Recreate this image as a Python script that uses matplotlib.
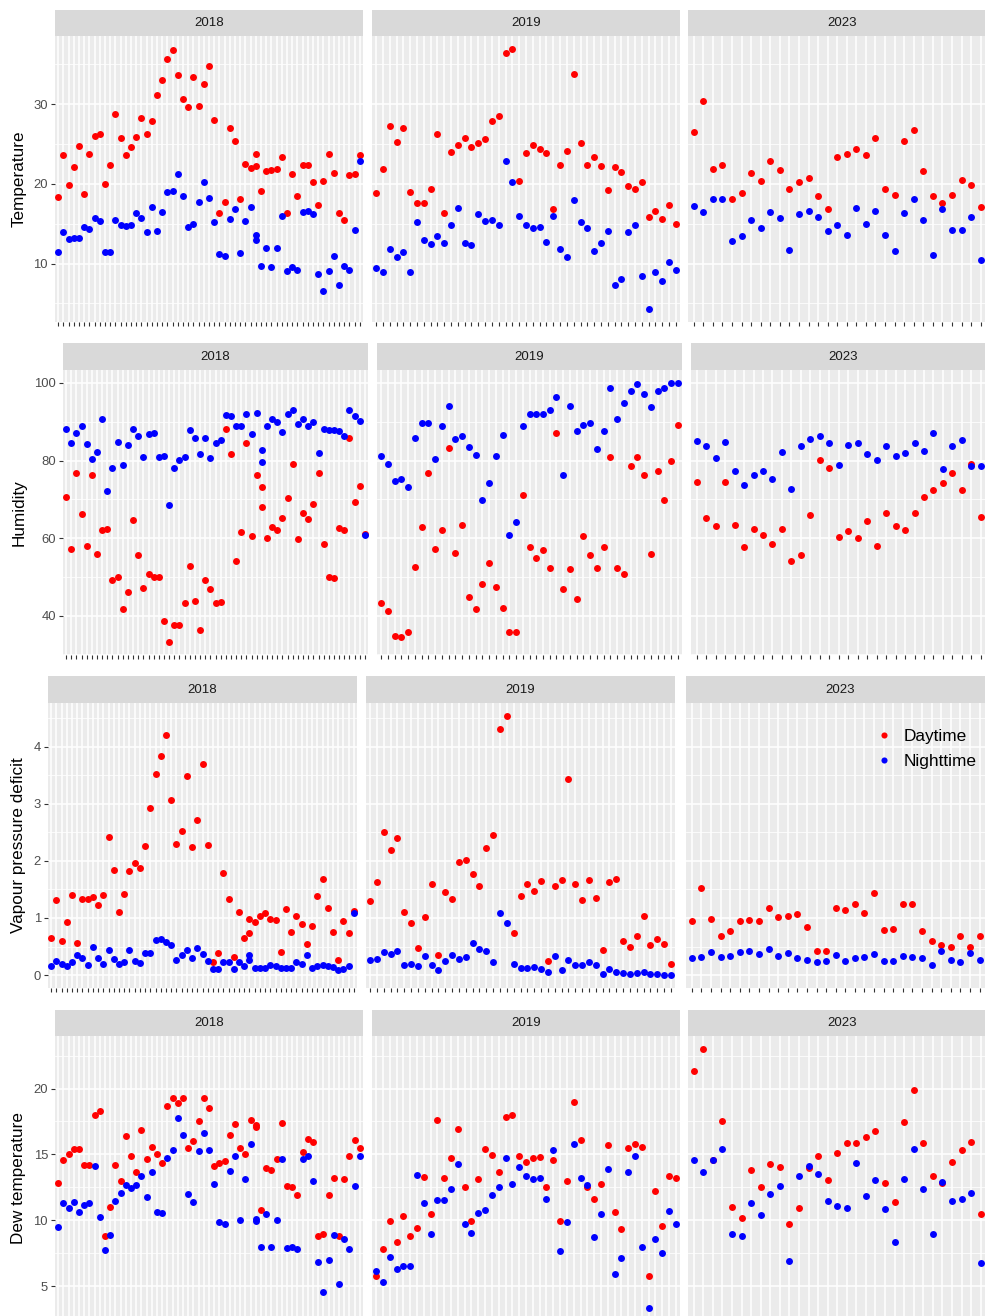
import numpy as np
import matplotlib
matplotlib.use('Agg')
import matplotlib.pyplot as plt
from matplotlib.lines import Line2D

plt.rcParams['font.family'] = ['Liberation Sans', 'DejaVu Sans']

years = ['2018', '2019', '2023']
n_dates = [59, 45, 32]  # dates per facet (the last 2023 date is outside the crop)

# x position of each observation inside its facet; 2018 has one date recorded twice
x_2018 = list(range(39)) + [38] + list(range(39, 59))
x_2019 = list(range(45))
x_2023 = list(range(31))

# ---- Temperature
temp_day_2018 = [18.3, 23.6, 19.8, 22.1, 24.7, 18.7, 23.7, 26.0, 26.2, 20.0,
                 22.3, 28.7, 25.7, 23.6, 24.6, 25.9, 28.2, 26.3, 27.9, 31.1,
                 33.0, 35.7, 36.8, 33.6, 30.6, 29.6, 33.4, 29.7, 32.5, 34.8,
                 28.0, 16.3, 17.7, 27.0, 25.4, 18.1, 22.5, 22.0, 23.7, 22.2,
                 19.1, 21.6, 21.7, 21.8, 23.4, 16.3, 21.2, 18.5, 22.4, 22.4,
                 20.2, 17.3, 20.4, 23.7, 21.3, 16.3, 15.5, 21.1, 21.25, 23.6]
temp_night_2018 = [11.5, 14.0, 13.1, 13.2, 13.2, 14.6, 14.35, 15.7, 15.35, 11.4,
                   11.4, 15.4, 14.8, 14.7, 14.8, 16.3, 15.65, 14.0, 17.1, 14.1,
                   16.5, 18.95, 19.15, 21.25, 18.5, 14.6, 14.9, 17.7, 20.25, 18.2,
                   15.2, 11.2, 11.0, 15.6, 16.8, 11.3, 15.3, 17.1, 13.55, 12.9,
                   9.75, 12.0, 9.6, 12.0, 15.95, 9.1, 9.6, 9.25, 16.5, 16.6,
                   16.2, 8.75, 6.6, 9.05, 10.9, 7.3, 9.65, 9.2, 14.2, 22.9]
temp_day_2019 = [18.8, 21.8, 27.2, 25.3, 27.0, 19.0, 17.6, 17.6, 19.4, 26.3,
                 16.3, 24.0, 24.85, 25.8, 24.6, 25.15, 25.65, 27.85, 28.5, 36.4,
                 36.9, 20.4, 23.8, 24.9, 24.4, 23.8, 16.8, 22.3, 24.1, 33.8,
                 25.15, 22.3, 23.35, 22.2, 19.2, 22.1, 21.5, 19.7, 19.4, 20.25,
                 15.8, 16.65, 15.6, 17.4, 15.0]
temp_night_2019 = [9.4, 8.9, 11.8, 10.8, 11.5, 8.9, 15.2, 13.0, 12.5, 13.45,
                   12.55, 14.85, 17.0, 12.6, 12.3, 16.15, 15.35, 15.4, 14.8, 22.8,
                   20.25, 15.95, 14.8, 14.5, 14.6, 12.7, 15.9, 11.8, 10.8, 18.0,
                   15.15, 14.4, 11.6, 12.6, 14.1, 7.35, 8.0, 14.0, 14.8, 8.4,
                   4.3, 8.9, 7.75, 10.25, 9.25]
temp_day_2023 = [26.45, 30.4, 21.9, 22.3, 18.1, 18.8, 21.4, 20.4, 22.9, 21.75,
                 19.4, 20.2, 20.7, 18.45, 16.9, 23.4, 23.75, 24.3, 23.65, 25.8,
                 19.4, 18.65, 25.35, 26.8, 21.55, 18.5, 17.6, 18.65, 20.5, 19.8, 17.1]
temp_night_2023 = [17.2, 16.5, 18.1, 18.1, 12.8, 13.5, 15.5, 14.4, 16.4, 15.7,
                   11.75, 16.15, 16.55, 15.85, 14.05, 14.8, 13.55, 17.0, 15.0, 16.55,
                   13.6, 11.55, 16.3, 18.1, 15.45, 11.05, 16.9, 14.15, 14.15, 15.8, 10.4]

# ---- Humidity
hum_day_2018 = [70.5, 57.3, 76.7, 66.1, 57.9, 76.2, 55.8, 62.0, 62.4, 49.1,
                49.9, 41.6, 46.0, 64.6, 55.6, 47.2, 50.8, 49.9, 49.9, 38.7,
                33.2, 37.5, 37.7, 43.2, 52.7, 43.9, 36.4, 49.3, 47.0, 43.3,
                43.5, 88.2, 81.8, 54.2, 61.7, 84.5, 60.5, 76.3, 73.3, 68.0,
                60.0, 62.9, 62.1, 65.1, 70.3, 79.2, 59.8, 66.4, 65.0, 68.7,
                76.8, 58.4, 50.0, 49.7, 62.6, 62.1, 85.8, 69.4, 73.5, 61.0]
hum_night_2018 = [88.2, 84.6, 87.0, 88.9, 84.2, 80.4, 82.2, 90.6, 72.2, 78.2,
                  84.8, 78.8, 83.9, 88.1, 86.3, 81.0, 86.9, 87.0, 80.9, 81.1,
                  68.5, 78.2, 80.2, 80.9, 87.9, 85.7, 81.6, 85.9, 80.6, 84.4,
                  85.3, 91.7, 91.5, 88.8, 88.8, 92.0, 86.8, 92.2, 82.7, 79.7,
                  88.8, 90.6, 89.9, 87.4, 91.9, 92.9, 89.4, 90.6, 88.9, 90.0,
                  82.0, 88.2, 87.8, 87.8, 87.5, 86.4, 93.0, 91.4, 90.1, 60.7]
hum_day_2019 = [43.3, 41.2, 34.85, 34.6, 35.8, 52.5, 62.8, 76.7, 57.1, 62.1,
                83.3, 56.2, 63.4, 44.8, 41.8, 48.2, 53.5, 47.5, 41.9, 35.9,
                35.7, 71.2, 57.6, 54.8, 56.9, 52.4, 87.2, 46.8, 52.1, 44.4,
                60.6, 55.6, 52.2, 57.7, 80.9, 52.4, 50.7, 78.5, 80.9, 76.2,
                55.8, 77.25, 69.9, 79.9, 89.2]
hum_night_2019 = [81.2, 79.05, 74.85, 75.2, 73.3, 85.75, 89.7, 89.7, 80.4, 88.9,
                  94.1, 85.6, 86.2, 83.6, 81.5, 69.9, 74.3, 81.1, 86.5, 60.8,
                  64.1, 88.8, 92.0, 92.0, 91.9, 93.0, 96.5, 76.2, 94.1, 87.6,
                  89.2, 89.6, 82.9, 87.7, 98.7, 90.6, 94.8, 97.9, 99.7, 97.2,
                  93.7, 98.0, 98.7, 100.0, 100.0]
hum_day_2023 = [74.5, 65.3, 63.1, 74.4, 63.35, 57.7, 62.4, 60.8, 58.4, 62.4,
                54.1, 55.7, 65.9, 80.1, 78.2, 60.2, 61.9, 60.1, 64.5, 57.9,
                66.35, 63.2, 62.1, 66.4, 70.6, 72.4, 74.1, 76.7, 72.4, 79.1, 65.5]
hum_night_2023 = [85.15, 83.7, 80.6, 84.7, 77.4, 73.6, 76.2, 77.4, 75.3, 82.1,
                  72.7, 83.7, 85.5, 86.35, 84.4, 78.8, 83.9, 84.6, 81.7, 80.1,
                  83.7, 81.1, 82.0, 84.6, 82.5, 87.0, 77.8, 83.7, 85.3, 78.6, 78.5]

# ---- Vapour pressure deficit
vpd_day_2018 = [0.65, 1.31, 0.60, 0.93, 1.40, 0.57, 1.33, 1.33, 1.36, 1.22,
                1.40, 2.42, 1.84, 1.10, 1.42, 1.83, 1.96, 1.87, 2.26, 2.93,
                3.53, 3.83, 4.21, 3.07, 2.30, 2.52, 3.49, 2.24, 2.72, 3.70,
                2.28, 0.22, 0.38, 1.79, 1.33, 0.32, 1.11, 0.65, 0.99, 0.73,
                0.93, 1.03, 1.09, 0.99, 0.96, 0.40, 1.15, 0.76, 1.04, 0.90,
                0.55, 0.86, 1.39, 1.69, 1.17, 0.75, 0.26, 0.94, 0.73, 1.13]
vpd_night_2018 = [0.16, 0.25, 0.20, 0.16, 0.23, 0.35, 0.29, 0.17, 0.49, 0.30,
                  0.20, 0.44, 0.28, 0.19, 0.23, 0.44, 0.25, 0.21, 0.39, 0.39,
                  0.61, 0.64, 0.58, 0.52, 0.26, 0.35, 0.44, 0.30, 0.48, 0.37,
                  0.25, 0.11, 0.11, 0.22, 0.22, 0.11, 0.23, 0.15, 0.35, 0.27,
                  0.13, 0.13, 0.12, 0.18, 0.15, 0.13, 0.13, 0.12, 0.22, 0.19,
                  0.35, 0.13, 0.15, 0.175, 0.16, 0.14, 0.08, 0.10, 0.16, 1.09]
vpd_day_2019 = [1.29, 1.63, 2.50, 2.19, 2.40, 1.10, 0.91, 0.47, 1.02, 1.60,
                0.36, 1.45, 1.33, 1.98, 2.01, 1.77, 1.56, 2.23, 2.46, 4.31,
                4.54, 0.73, 1.39, 1.60, 1.47, 1.65, 0.25, 1.56, 1.67, 3.43,
                1.60, 1.31, 1.67, 1.35, 0.44, 1.63, 1.69, 0.60, 0.50, 0.68,
                1.04, 0.53, 0.63, 0.54, 0.20]
vpd_night_2019 = [0.27, 0.28, 0.40, 0.37, 0.43, 0.18, 0.20, 0.15, 0.33, 0.18,
                  0.09, 0.24, 0.36, 0.28, 0.31, 0.56, 0.46, 0.42, 0.23, 1.09,
                  0.91, 0.20, 0.13, 0.13, 0.14, 0.11, 0.06, 0.33, 0.08, 0.26,
                  0.18, 0.17, 0.23, 0.18, 0.02, 0.10, 0.06, 0.04, 0.01, 0.035,
                  0.06, 0.02, 0.02, 0.0, 0.0]
vpd_day_2023 = [0.95, 1.53, 0.98, 0.69, 0.77, 0.94, 0.97, 0.95, 1.17, 1.01,
                1.04, 1.07, 0.85, 0.42, 0.42, 1.18, 1.14, 1.24, 1.08, 1.43,
                0.79, 0.80, 1.25, 1.25, 0.77, 0.60, 0.53, 0.49, 0.68, 0.49, 0.68]
vpd_night_2023 = [0.30, 0.32, 0.40, 0.32, 0.33, 0.41, 0.415, 0.37, 0.46, 0.33,
                  0.39, 0.29, 0.26, 0.23, 0.24, 0.36, 0.25, 0.29, 0.31, 0.37,
                  0.25, 0.25, 0.33, 0.32, 0.30, 0.17, 0.42, 0.26, 0.23, 0.38, 0.27]

# ---- Dew temperature
dew_day_2018 = [12.8, 14.55, 15.05, 15.4, 15.45, 14.2, 14.2, 18.0, 18.3, 8.8,
                11.05, 14.2, 13.0, 16.4, 14.85, 13.65, 16.85, 14.65, 15.55, 15.05,
                14.35, 18.7, 19.3, 18.9, 19.25, 15.5, 16.05, 17.55, 19.3, 18.55,
                14.1, 14.35, 14.5, 16.5, 17.3, 15.5, 15.0, 17.6, 17.25, 17.05,
                10.8, 13.95, 13.8, 14.65, 17.4, 12.6, 12.5, 11.9, 15.15, 16.2,
                15.95, 8.85, 8.95, 11.9, 13.2, 8.8, 13.1, 14.85, 16.1, 15.5]
dew_night_2018 = [9.5, 11.3, 10.95, 11.4, 10.65, 11.15, 11.35, 14.1, 10.25, 7.75,
                  8.9, 11.5, 12.05, 12.7, 12.45, 12.7, 13.4, 11.8, 13.65, 10.65,
                  10.55, 14.7, 15.35, 17.8, 16.5, 12.0, 11.4, 15.25, 16.65, 15.35,
                  12.75, 9.85, 9.7, 13.75, 14.9, 10.05, 13.1, 15.8, 9.95, 10.1,
                  8.0, 10.45, 8.0, 10.0, 14.65, 7.9, 7.95, 7.8, 14.65, 14.85,
                  13.0, 6.85, 4.6, 7.0, 8.9, 5.2, 8.55, 7.85, 12.6, 14.9]
dew_day_2019 = [5.8, 7.8, 9.95, 8.35, 10.35, 8.8, 9.45, 13.3, 10.45, 17.6,
                13.25, 14.7, 16.9, 12.5, 9.95, 13.1, 15.4, 14.95, 13.65, 17.85,
                18.0, 14.85, 14.4, 14.7, 14.8, 12.55, 14.55, 9.95, 12.95, 18.95,
                16.1, 12.55, 11.65, 12.75, 15.7, 10.65, 9.35, 15.5, 15.8, 15.6,
                5.8, 12.2, 9.55, 13.4, 13.2]
dew_night_2019 = [6.15, 5.3, 7.2, 6.3, 6.55, 6.55, 13.45, 11.3, 8.95, 11.55,
                  11.55, 12.4, 14.3, 9.7, 9.05, 10.55, 10.8, 11.9, 12.5, 14.75,
                  12.75, 14.05, 13.35, 13.1, 13.25, 11.6, 15.3, 7.7, 9.9, 15.8,
                  13.25, 12.7, 8.75, 10.5, 13.9, 5.9, 7.15, 13.7, 14.85, 8.0,
                  3.35, 8.6, 7.55, 10.7, 9.7]
dew_day_2023 = [21.35, 23.0, 14.55, 17.5, 11.05, 10.2, 13.8, 12.5, 14.25, 14.05,
                9.7, 10.95, 13.95, 14.9, 13.05, 15.1, 15.9, 15.9, 16.35, 16.8,
                12.8, 11.4, 17.45, 19.85, 15.85, 13.35, 12.8, 14.4, 15.3, 15.95, 10.45]
dew_night_2023 = [14.6, 13.65, 14.6, 15.45, 8.95, 8.85, 11.35, 10.4, 12.0, 12.6,
                  6.95, 13.35, 14.1, 13.55, 11.5, 11.1, 10.9, 14.35, 11.85, 13.05,
                  10.85, 8.35, 13.1, 15.45, 12.4, 8.95, 12.9, 11.45, 11.65, 12.1, 6.75]

xs = [x_2018, x_2019, x_2023]

# ---- layout (pixel boxes of the reference picture)
W, H = 985, 1316
rows = [
    dict(label='Temperature', day=[temp_day_2018, temp_day_2019, temp_day_2023],
         night=[temp_night_2018, temp_night_2019, temp_night_2023],
         major=[10, 20, 30], minor=[5, 15, 25, 35],
         strip_top=10, top=36, bottom=322,
         panels=[(55, 363), (372, 680), (688, 996)]),
    dict(label='Humidity', day=[hum_day_2018, hum_day_2019, hum_day_2023],
         night=[hum_night_2018, hum_night_2019, hum_night_2023],
         major=[40, 60, 80, 100], minor=[30, 50, 70, 90],
         strip_top=343, top=370, bottom=655,
         panels=[(63, 368), (377, 682), (691, 996)]),
    dict(label='Vapour pressure deficit', day=[vpd_day_2018, vpd_day_2019, vpd_day_2023],
         night=[vpd_night_2018, vpd_night_2019, vpd_night_2023],
         major=[0, 1, 2, 3, 4], minor=[0.5, 1.5, 2.5, 3.5, 4.5],
         strip_top=676, top=703, bottom=988,
         panels=[(48, 357), (366, 675), (686, 995)]),
    dict(label='Dew temperature', day=[dew_day_2018, dew_day_2019, dew_day_2023],
         night=[dew_night_2018, dew_night_2019, dew_night_2023],
         major=[5, 10, 15, 20], minor=[2.5, 7.5, 12.5, 17.5, 22.5],
         strip_top=1010, top=1036, bottom=1321,
         panels=[(55, 363), (372, 680), (688, 996)]),
]


def rect(x0, y0, x1, y1):
    return [x0 / W, 1 - y1 / H, (x1 - x0) / W, (y1 - y0) / H]


fig = plt.figure(figsize=(W / 100, H / 100), dpi=100)

for row in rows:
    allv = np.concatenate([np.asarray(v, float) for v in row['day'] + row['night']])
    lo, hi = allv.min(), allv.max()
    pad = 0.05 * (hi - lo)
    for i, year in enumerate(years):
        x0, x1 = row['panels'][i]
        ax = fig.add_axes(rect(x0, row['top'], x1, row['bottom']))
        ax.set_facecolor('#EBEBEB')
        ax.plot(xs[i], row['day'][i], 'o', color='red', ms=5.0, mew=0, label='Daytime')
        ax.plot(xs[i], row['night'][i], 'o', color='blue', ms=5.0, mew=0, label='Nighttime')
        ax.set_xlim(-0.6, n_dates[i] - 0.4)
        ax.set_ylim(lo - pad, hi + pad)
        ax.set_xticks(range(n_dates[i]))
        ax.set_xticklabels([])
        ax.set_yticks(row['major'])
        ax.set_yticks(row['minor'], minor=True)
        ax.grid(which='major', color='white', lw=1.1)
        ax.grid(which='minor', axis='y', color='white', lw=0.55)
        ax.set_axisbelow(True)
        for s in ax.spines.values():
            s.set_visible(False)
        ax.tick_params(axis='x', length=2.9, width=0.8, color='#333333')
        ax.tick_params(axis='y', which='minor', length=0)
        if i == 0:
            ax.tick_params(axis='y', which='major', length=2.9, width=0.8, color='#333333',
                           labelcolor='#4D4D4D', labelsize=9.4, pad=2.2)
        else:
            ax.tick_params(axis='y', which='major', length=0, labelleft=False)

        st = fig.add_axes(rect(x0, row['strip_top'], x1, row['top']))
        st.set_facecolor('#D9D9D9')
        st.set_xticks([])
        st.set_yticks([])
        for s in st.spines.values():
            s.set_visible(False)
        st.text(0.5, 0.5, year, ha='center', va='center', fontsize=9.5,
                color='#1A1A1A', transform=st.transAxes)

        if row['label'] == 'Vapour pressure deficit' and i == 2:
            handles = [Line2D([], [], ls='', marker='o', color='red', ms=4.4, mew=0),
                       Line2D([], [], ls='', marker='o', color='blue', ms=4.4, mew=0)]
            ax.legend(handles, ['Daytime', 'Nighttime'], loc='upper left',
                      bbox_to_anchor=(875.6 / W, 1 - 728.5 / H), bbox_transform=fig.transFigure,
                      frameon=False, fontsize=12.4, handlelength=1.0, handletextpad=0.6,
                      labelspacing=0.6, borderpad=0, borderaxespad=0)

    ymid = (row['top'] + row['bottom']) / 2
    fig.text(19 / W, 1 - ymid / H, row['label'], rotation=90, ha='center', va='center',
             fontsize=12.3, color='black')

fig.savefig('out.png', dpi=100)
